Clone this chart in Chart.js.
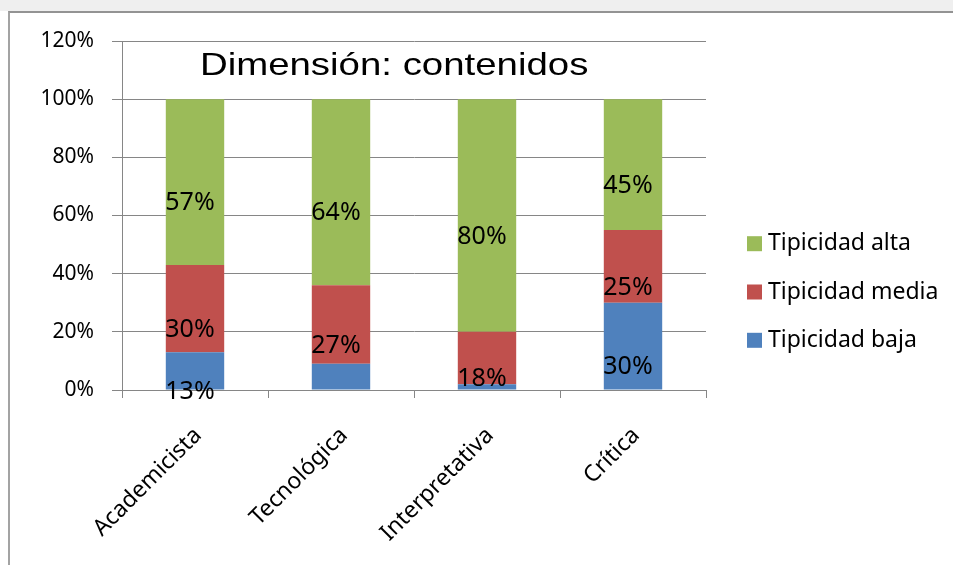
<!DOCTYPE html>
<html lang="es">
<head>
<meta charset="utf-8">
<title>Dimensión: contenidos</title>
<script src="https://cdn.jsdelivr.net/npm/chart.js@4.4.1/dist/chart.umd.min.js"></script>
<style>
  html, body { margin: 0; padding: 0; background: #fff; overflow: hidden; }
  #wrap { position: relative; width: 953px; height: 565px; }
  #strip { position: absolute; left: 0; top: 0; width: 953px; height: 11px; background: #efefef; }
  #frame { position: absolute; left: 8px; top: 11px; width: 1000px; height: 600px;
           border-left: 2px solid #a3a3a3; border-top: 2px solid #939393; }
  canvas { position: absolute; left: 0; top: 0; }
</style>
</head>
<body>
<div id="wrap">
  <div id="strip"></div>
  <div id="frame"></div>
  <canvas id="chart" width="953" height="565"></canvas>
</div>
<script>
  // --- Data ---
  const chartTitle = "Dimensión: contenidos";
  const categories = ["Academicista", "Tecnológica", "Interpretativa", "Crítica"];
  const seriesNames = ["Tipicidad baja", "Tipicidad media", "Tipicidad alta"];
  const baja = [13, 9, 2, 30];
  const media = [30, 27, 18, 25];
  const alta = [57, 64, 80, 45];
  const yMax = 120;
  const yStep = 20;

  const colors = ["#4F81BD", "#C0504D", "#9BBB59"];
  const gridColor = "#868686";

  // --- Percentage labels on the segments (small ones left out, as in the original) ---
  const segmentLabels = {
    id: "segmentLabels",
    afterDatasetsDraw(chart) {
      const ctx = chart.ctx;
      ctx.save();
      ctx.font = "25px 'Noto Sans'";
      ctx.fillStyle = "#000";
      ctx.textAlign = "center";
      ctx.textBaseline = "middle";
      chart.data.datasets.forEach((ds, i) => {
        chart.getDatasetMeta(i).data.forEach((bar, j) => {
          const v = ds.data[j];
          if (v < 10) return;
          const mid = (bar.y + bar.base) / 2;
          ctx.fillText(v + "%", bar.x - 5, mid + 21);
        });
      });
      ctx.restore();
    }
  };

  // --- Title sits inside the plot, a little stretched like the original text box ---
  const stretchedTitle = {
    id: "stretchedTitle",
    afterDraw(chart) {
      const { ctx, chartArea } = chart;
      const y = chart.scales.y.getPixelForValue(108.3);
      const x = chartArea.left + chartArea.width * 0.466;
      ctx.save();
      ctx.translate(x, y);
      ctx.scale(1.2, 1);
      ctx.font = "32px 'Liberation Sans'";
      ctx.fillStyle = "#000";
      ctx.textAlign = "center";
      ctx.textBaseline = "alphabetic";
      ctx.fillText(chartTitle, 0, 0);
      ctx.restore();
    }
  };

  // --- Legend on the right, top item = last series ---
  const sideLegend = {
    id: "sideLegend",
    afterDraw(chart) {
      const ctx = chart.ctx;
      const items = chart.data.datasets.slice().reverse();
      ctx.save();
      ctx.font = "23px 'Noto Sans'";
      ctx.textAlign = "left";
      ctx.textBaseline = "middle";
      items.forEach((ds, k) => {
        const cy = 243.7 + k * 48.3;
        ctx.fillStyle = ds.backgroundColor;
        ctx.fillRect(747, cy - 7.5, 15, 15);
        ctx.fillStyle = "#000";
        ctx.fillText(ds.label, 768, cy);
      });
      ctx.restore();
    }
  };

  const ctxEl = document.getElementById("chart");
  new Chart(ctxEl, {
    type: "bar",
    data: {
      labels: categories,
      datasets: [baja, media, alta].map((vals, i) => ({
        label: seriesNames[i],
        data: vals,
        backgroundColor: colors[i],
        borderWidth: 0,
        barPercentage: 0.4,
        categoryPercentage: 1
      }))
    },
    options: {
      responsive: false,
      animation: false,
      layout: { padding: { left: 20, top: 41, right: 247, bottom: 0 } },
      plugins: {
        legend: { display: false },
        title: { display: false },
        tooltip: { enabled: false }
      },
      scales: {
        x: {
          stacked: true,
          grid: { offset: true, drawOnChartArea: false, tickLength: 8, color: gridColor },
          border: { color: gridColor },
          ticks: {
            minRotation: 45,
            maxRotation: 45,
            padding: 24,
            labelOffset: 3,
            color: "#000",
            font: { family: "Noto Sans", size: 23 }
          },
          afterFit: s => { s.height = 175; }
        },
        y: {
          stacked: true,
          min: 0,
          max: yMax,
          grid: { color: gridColor, tickLength: 10 },
          border: { color: gridColor },
          ticks: {
            stepSize: yStep,
            padding: 18,
            color: "#000",
            font: { family: "Noto Sans", size: 21 },
            callback: v => v + "%"
          },
          afterFit: s => { s.width = 102; }
        }
      }
    },
    plugins: [segmentLabels, stretchedTitle, sideLegend]
  });
</script>
</body>
</html>
